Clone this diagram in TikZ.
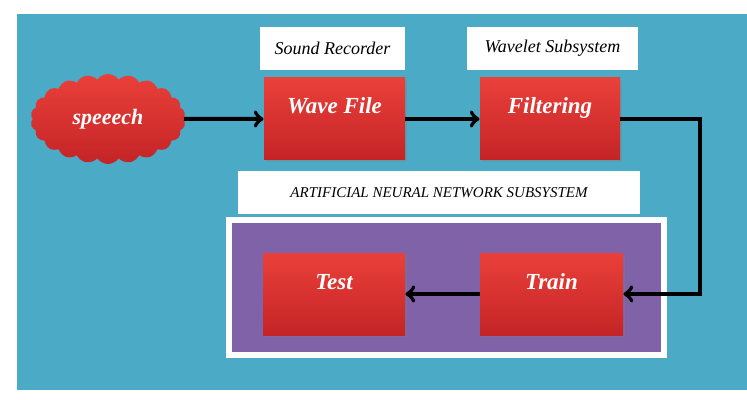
\documentclass[tikz,border=0pt]{standalone}
\usepackage{fontspec}
\setmainfont{Liberation Serif}
\usetikzlibrary{arrows,shapes.symbols,shadows}
\definecolor{panelteal}{RGB}{75,170,198}
\definecolor{annpurple}{RGB}{128,98,168}
\definecolor{redtop}{RGB}{234,64,58}
\definecolor{redbot}{RGB}{196,36,38}

\begin{document}
\begin{tikzpicture}[x=0.5pt,y=-0.5pt,
  redbox/.style={rectangle,top color=redtop,bottom color=redbot,
    drop shadow={opacity=.35,shadow xshift=1pt,shadow yshift=-1pt},
    minimum height=41pt,text=white,text height=8pt,text depth=13pt,
    font=\fontsize{11.5}{13}\selectfont\bfseries\itshape},
  tagbox/.style={rectangle,fill=white,minimum height=21.5pt,
    font=\fontsize{9}{11}\selectfont\itshape},
  flow/.style={->,line width=2pt,black}]
  \useasboundingbox (0,0) rectangle (747,400);
  \fill[panelteal] (17,14) rectangle (747,390);

  \node[tagbox,minimum width=201pt,font=\fontsize{7.5}{9}\selectfont\itshape] (anntag) at (439,192.5) {ARTIFICIAL NEURAL NETWORK SUBSYSTEM};
  \node[draw=white,line width=3pt,fill=annpurple,minimum width=217.5pt,minimum height=67.5pt] (annbox) at (446.5,287.5) {};

  \node[cloud,cloud puffs=22,cloud puff arc=110,cloud ignores aspect,minimum width=77.5pt,minimum height=45pt,
    top color=redtop,bottom color=redbot,text=white,
    font=\fontsize{11}{13}\selectfont\bfseries\itshape] (speech) at (108,119) {speeech};

  \node[tagbox,minimum width=72.5pt] (rectag) at (332.5,48.5) {Sound Recorder};
  \node[redbox,minimum width=70.5pt] (wave) at (334.5,119) {Wave File};

  \node[tagbox,minimum width=85.5pt] (wavtag) at (552.5,48.5) {Wavelet Subsystem};
  \node[redbox,minimum width=70pt] (filt) at (550,119) {Filtering};

  \node[redbox,minimum width=71pt] (test) at (334,294) {Test};
  \node[redbox,minimum width=71.5pt] (train) at (551.5,294) {Train};

  \draw[flow] (speech.east) -- (wave.west);
  \draw[flow] (wave.east) -- (filt.west);
  \draw[flow] (filt.east) -- ++(80,0) |- (train.east);
  \draw[flow] (train.west) -- (test.east);
\end{tikzpicture}
\end{document}
